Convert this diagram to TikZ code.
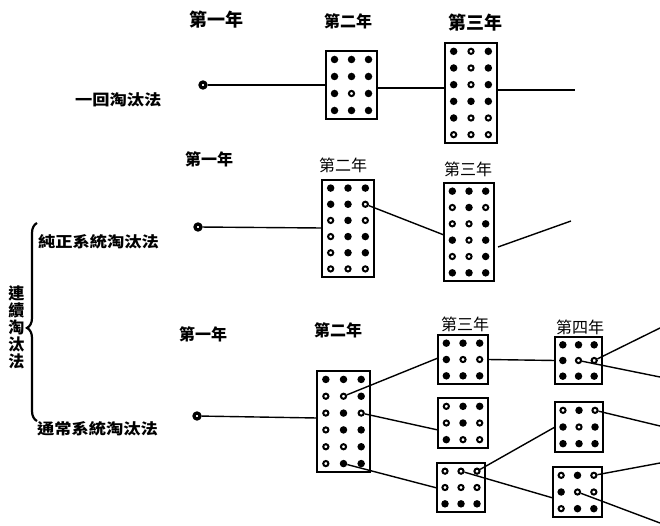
\documentclass[tikz,border=0pt]{standalone}
\usepackage{fontspec}
\newfontfamily\cjk{Noto Sans CJK TC}
\usetikzlibrary{decorations.pathreplacing}

\tikzset{
  seedframe/.style={draw, line width=1.8pt, inner sep=0pt, outer sep=0pt},
  seedf/.style={circle, fill, inner sep=0pt, minimum size=7.5pt},
  seedo/.style={circle, draw, line width=2pt, inner sep=0pt, minimum size=5.2pt},
  link/.style={line width=1.4pt},
  origin/.style={circle, draw, fill=white, line width=3.2pt, inner sep=0pt, minimum size=6pt},
  yr/.style={font=\cjk\fontsize{16}{16}\selectfont},
  yrb/.style={font=\cjk\bfseries\fontsize{16}{16}\selectfont},
  method/.style={font=\cjk\bfseries\fontsize{15}{15}\selectfont, anchor=west, inner sep=0pt, xscale=1.15},
}

% #1 name, #2 left, #3 top, #4 right, #5 bottom, #6 number of rows,
% #7 rows of three seeds each (f = solid, o = hollow)
\newcommand\seedbox[7]{%
  \node[seedframe, minimum width={#4-#2}, minimum height={#5-#3}]
    (#1) at ({(#2+#4)/2},{(#3+#5)/2}) {};
  \foreach \pa/\pb/\pc [count=\r] in {#7} {
    \pgfmathsetmacro\yy{#3+(#5-#3)*(\r-0.5)/#6}
    \foreach \v [count=\k] in {\pa,\pb,\pc} {
      \pgfmathsetmacro\xx{#2+(#4-#2)*(\k-0.5)/3}
      \if\v f\node[seedf] (#1-\r-\k) at (\xx,\yy) {};
      \else\node[seedo] (#1-\r-\k) at (\xx,\yy) {};\fi
    }
  }%
}

\begin{document}
\begin{tikzpicture}[x=1pt, y=-1pt]
\useasboundingbox (0,0) rectangle (660,526);
\fill[white] (0,0) rectangle (660,526);

% ---------- one-time selection ----------
\node[yrb, font=\cjk\bfseries\fontsize{18}{18}\selectfont] (h11) at (216,20) {第一年};
\node[yrb] (h12) at (348,21) {第二年};
\node[yrb, font=\cjk\bfseries\fontsize{18}{18}\selectfont] (h13) at (475,23) {第三年};
\node[method] (m1) at (75,100) {一回淘汰法};

\node[origin] (o1) at (203,85) {};
\seedbox{b1}{326}{51}{377}{119}{4}{f/f/f, f/f/f, f/o/f, f/f/f}
\seedbox{b2}{445}{43}{497}{143}{6}{f/o/f, f/o/f, f/o/f, f/f/f, f/o/o, o/o/o}
\coordinate (b1in) at (326,85);
\coordinate (b1out) at (377,88);
\coordinate (b2in) at (445,88);
\coordinate (b2out) at (497,90);
\coordinate (e1) at (575,90);
\draw[link] (o1) -- (b1in);
\draw[link] (b1out) -- (b2in);
\draw[link] (b2out) -- (e1);

% ---------- pure-line selection ----------
\node[yrb] (h21) at (209,159) {第一年};
\node[yr] (h22) at (343,165) {第二年};
\node[yr] (h23) at (468,169) {第三年};
\node[method] (m2) at (38,242) {純正系統淘汰法};

\node[origin] (o2) at (198,227) {};
\seedbox{b3}{322}{180}{374}{277}{6}{f/f/f, f/f/o, o/f/o, o/f/f, o/f/f, o/o/o}
\seedbox{b4}{444}{183}{494}{281}{6}{f/f/f, o/f/o, o/o/f, f/o/f, o/o/f, f/f/f}
\coordinate (b3in) at (322,228);
\coordinate (b4in) at (444,235);
\coordinate (b4out) at (498,247);
\coordinate (e2) at (571,221);
\draw[link] (o2) -- (b3in);
\draw[link] (b3-2-3) -- (b4in);
\draw[link] (b4out) -- (e2);

% ---------- ordinary line selection ----------
\node[yrb] (h31) at (203,334) {第一年};
\node[yrb] (h32) at (338,330) {第二年};
\node[yr] (h33) at (465,324) {第三年};
\node[yr] (h34) at (580,327) {第四年};
\node[method] (m3) at (37,429) {通常系統淘汰法};

\node[origin] (o3) at (197,416) {};
\seedbox{b5}{317}{371}{370}{472}{6}{f/f/f, o/o/f, o/f/o, o/f/f, o/o/f, o/f/f}
\seedbox{b6}{438}{335}{488}{384}{3}{f/f/f, f/o/o, f/f/f}
\seedbox{b7}{438}{398}{488}{448}{3}{o/f/f, o/f/o, f/o/o}
\seedbox{b8}{437}{463}{485}{512}{3}{o/o/o, o/o/o, f/f/f}
\seedbox{b9}{555}{337}{602}{384}{3}{f/f/f, f/o/o, f/f/f}
\seedbox{b10}{555}{402}{603}{452}{3}{o/f/o, f/o/f, f/f/f}
\seedbox{b11}{553}{467}{602}{517}{3}{o/f/o, f/o/o, o/f/f}

\coordinate (b5in) at (317,418);
\coordinate (b6in) at (438,358);
\coordinate (b7in) at (438,430);
\coordinate (b8in) at (437,488);
\coordinate (b10in) at (555,427);
\coordinate (b11in) at (553,498);
\coordinate (e3) at (660,328);
\coordinate (e4) at (660,377);
\coordinate (e5) at (660,426);
\coordinate (e6) at (660,463);
\coordinate (e7) at (660,523);

\draw[link] (o3) -- (b5in);
\draw[link] (b5-2-2) -- (b6in);
\draw[link] (b5-3-3) -- (b7in);
\draw[link] (b5-6-2) -- (b8in);
\draw[link] (b6.east) -- (b9.west);
\draw[link] (b8-1-3) -- (b10in);
\draw[link] (b8-1-2) -- (b11in);
\draw[link] (b9-2-3) -- (e3);
\draw[link] (b9-2-2) -- (e4);
\draw[link] (b10-1-3) -- (e5);
\draw[link] (b11-1-3) -- (e6);
\draw[link] (b11-2-2) -- (e7);

% ---------- bracket grouping the two continuous methods ----------
\coordinate (br-bot) at (37,421);
\coordinate (br-top) at (37,223);
\draw[line width=2.2pt, decorate, decoration={brace, amplitude=10pt, aspect=0.47}]
  (br-bot) -- (br-top);
\node[font=\cjk\bfseries\fontsize{16}{17}\selectfont, align=center, inner sep=0pt]
  (cont) at (16.5,327) {連\\續\\淘\\汰\\法};
\end{tikzpicture}
\end{document}
